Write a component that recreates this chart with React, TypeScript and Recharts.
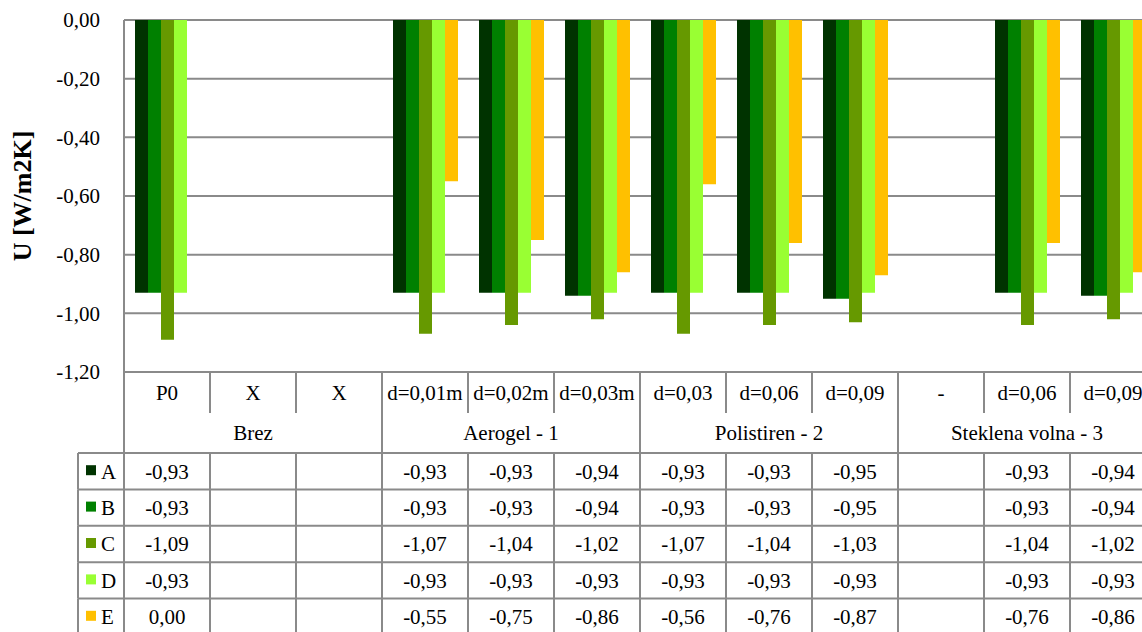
import React from 'react';
import { BarChart, Bar, XAxis, YAxis, CartesianGrid } from 'recharts';

const categories = ['P0', 'X', 'X', 'd=0,01m', 'd=0,02m', 'd=0,03m', 'd=0,03', 'd=0,06', 'd=0,09', '-', 'd=0,06', 'd=0,09'];
const groupNames = ['Brez', 'Aerogel - 1', 'Polistiren - 2', 'Steklena volna - 3'];
const categoryGroup = [0, 0, 0, 1, 1, 1, 2, 2, 2, 3, 3, 3];
const seriesNames = ['A', 'B', 'C', 'D', 'E'];
const seriesA = [-0.93, null, null, -0.93, -0.93, -0.94, -0.93, -0.93, -0.95, null, -0.93, -0.94];
const seriesB = [-0.93, null, null, -0.93, -0.93, -0.94, -0.93, -0.93, -0.95, null, -0.93, -0.94];
const seriesC = [-1.09, null, null, -1.07, -1.04, -1.02, -1.07, -1.04, -1.03, null, -1.04, -1.02];
const seriesD = [-0.93, null, null, -0.93, -0.93, -0.93, -0.93, -0.93, -0.93, null, -0.93, -0.93];
const seriesE = [0.0, null, null, -0.55, -0.75, -0.86, -0.56, -0.76, -0.87, null, -0.76, -0.86];
const seriesValues = [seriesA, seriesB, seriesC, seriesD, seriesE];
const colors = ['#003300', '#008000', '#669900', '#99FF33', '#FFC000'];
const yTicks = [0, -0.2, -0.4, -0.6, -0.8, -1.0, -1.2];
const yLabel = 'U [W/m2K]';

const data = categories.map((cat, i) => {
  const row: any = { cat, group: groupNames[categoryGroup[i]] };
  seriesNames.forEach((s, k) => {
    row[s] = seriesValues[k][i];
  });
  return row;
});

const FONT = "'Liberation Serif', 'Times New Roman', serif";
const FS = 21;
const LINE = '#8a8a8a';

const fmt = (v: any) => {
  if (v === null || v === undefined) return '';
  const n = Number(v);
  if (Math.abs(n) < 0.005) return '0,00';
  return n.toFixed(2).replace('.', ',');
};

const halfBand = (props: any) => {
  const o = props.payload && props.payload.offset;
  if (typeof o === 'number' && o > 0) return o;
  return props.width / categories.length / 2;
};

const CatTick = (props: any) => {
  const { x, y, index, rowH } = props;
  const half = halfBand(props);
  const last = index === categories.length - 1;
  return (
    <g>
      <line x1={x - half} x2={x - half} y1={y} y2={y + rowH} stroke={LINE} strokeWidth={2} />
      {last && <line x1={x + half} x2={x + half} y1={y} y2={y + rowH} stroke={LINE} strokeWidth={2} />}
      <text x={x} y={y + rowH / 2} dy="0.35em" textAnchor="middle" fontFamily={FONT} fontSize={FS} fill="#000">
        {categories[index]}
      </text>
    </g>
  );
};

const GroupTick = (props: any) => {
  const { x, y, index, rowH } = props;
  const half = halfBand(props);
  const g = categoryGroup[index];
  const isStart = index === 0 || categoryGroup[index - 1] !== g;
  const members = categoryGroup.filter((v) => v === g).length;
  const startIdx = categoryGroup.indexOf(g);
  const showLabel = index === startIdx;
  const groupCenter = x - half + members * half;
  return (
    <g>
      {isStart && <line x1={x - half} x2={x - half} y1={y} y2={y + rowH} stroke={LINE} strokeWidth={2} />}
      {index === categories.length - 1 && (
        <line x1={x + half} x2={x + half} y1={y} y2={y + rowH} stroke={LINE} strokeWidth={2} />
      )}
      {showLabel && (
        <text x={groupCenter} y={y + rowH / 2} dy="0.35em" textAnchor="middle" fontFamily={FONT} fontSize={FS} fill="#000">
          {groupNames[g]}
        </text>
      )}
    </g>
  );
};

const RowTick = (props: any) => {
  const { x, y, index, rowH, s } = props;
  const half = halfBand(props);
  const last = index === categories.length - 1;
  const legendW = 46;
  const lx = x - half - legendW;
  return (
    <g>
      <line x1={index === 0 ? lx : x - half} x2={x + half} y1={y} y2={y} stroke={LINE} strokeWidth={2} />
      <line x1={x - half} x2={x - half} y1={y} y2={y + rowH} stroke={LINE} strokeWidth={2} />
      {last && <line x1={x + half} x2={x + half} y1={y} y2={y + rowH} stroke={LINE} strokeWidth={2} />}
      {index === 0 && (
        <g>
          <line x1={lx} x2={lx} y1={y} y2={y + rowH} stroke={LINE} strokeWidth={2} />
          <rect x={lx + 8} y={y + rowH / 2 - 6} width={10} height={10} fill={colors[s]} />
          <text x={lx + 23} y={y + rowH / 2} dy="0.35em" textAnchor="start" fontFamily={FONT} fontSize={FS} fill="#000">
            {seriesNames[s]}
          </text>
        </g>
      )}
      <text x={x} y={y + rowH / 2} dy="0.35em" textAnchor="middle" fontFamily={FONT} fontSize={FS} fill="#000">
        {fmt(seriesValues[s][index])}
      </text>
    </g>
  );
};

const YLabel = (props: any) => {
  const vb = props.viewBox || {};
  const cx = vb.x + 22;
  const cy = vb.y + vb.height / 2;
  return (
    <text
      x={cx}
      y={cy}
      transform={`rotate(-90, ${cx}, ${cy})`}
      textAnchor="middle"
      dy="0.35em"
      fontFamily={FONT}
      fontWeight="bold"
      fontSize={26}
      fill="#000"
    >
      {yLabel}
    </text>
  );
};

const CAT_H = 41;
const GROUP_H = 40;
const ROW_H = 36.4;

export default function App() {
  return (
    <div style={{ position: 'absolute', left: 0, top: 0, width: 1142, height: 632, overflow: 'hidden', background: '#fff' }}>
      <BarChart
        width={1160}
        height={640}
        data={data}
        margin={{ top: 20, right: 4, bottom: 5, left: 0 }}
        barGap={0}
      >
        <CartesianGrid vertical={false} stroke={LINE} strokeWidth={2} />
        <YAxis
          width={124}
          domain={[-1.2, 0]}
          ticks={yTicks}
          tickFormatter={fmt}
          tickLine={false}
          tickSize={0}
          tickMargin={24}
          axisLine={{ stroke: LINE, strokeWidth: 2 }}
          tick={{ fill: '#000', fontSize: FS, fontFamily: FONT }}
          label={<YLabel />}
        />
        <XAxis
          xAxisId="cat"
          dataKey="cat"
          height={CAT_H}
          interval={0}
          tickLine={false}
          tickSize={0}
          tickMargin={0}
          axisLine={{ stroke: LINE, strokeWidth: 2 }}
          tick={<CatTick rowH={CAT_H} />}
        />
        <XAxis
          xAxisId="group"
          dataKey="cat"
          height={GROUP_H}
          interval={0}
          tickLine={false}
          tickSize={0}
          tickMargin={0}
          axisLine={false}
          tick={<GroupTick rowH={GROUP_H} />}
        />
        {seriesNames.map((s, k) => (
          <XAxis
            key={'row' + s}
            xAxisId={'row' + s}
            dataKey="cat"
            height={ROW_H}
            interval={0}
            tickLine={false}
            tickSize={0}
            tickMargin={0}
            axisLine={false}
            tick={<RowTick rowH={ROW_H} s={k} />}
          />
        ))}
        {seriesNames.map((s, k) => (
          <Bar key={s} xAxisId="cat" dataKey={s} fill={colors[k]} barSize={13} isAnimationActive={false} />
        ))}
      </BarChart>
    </div>
  );
}
